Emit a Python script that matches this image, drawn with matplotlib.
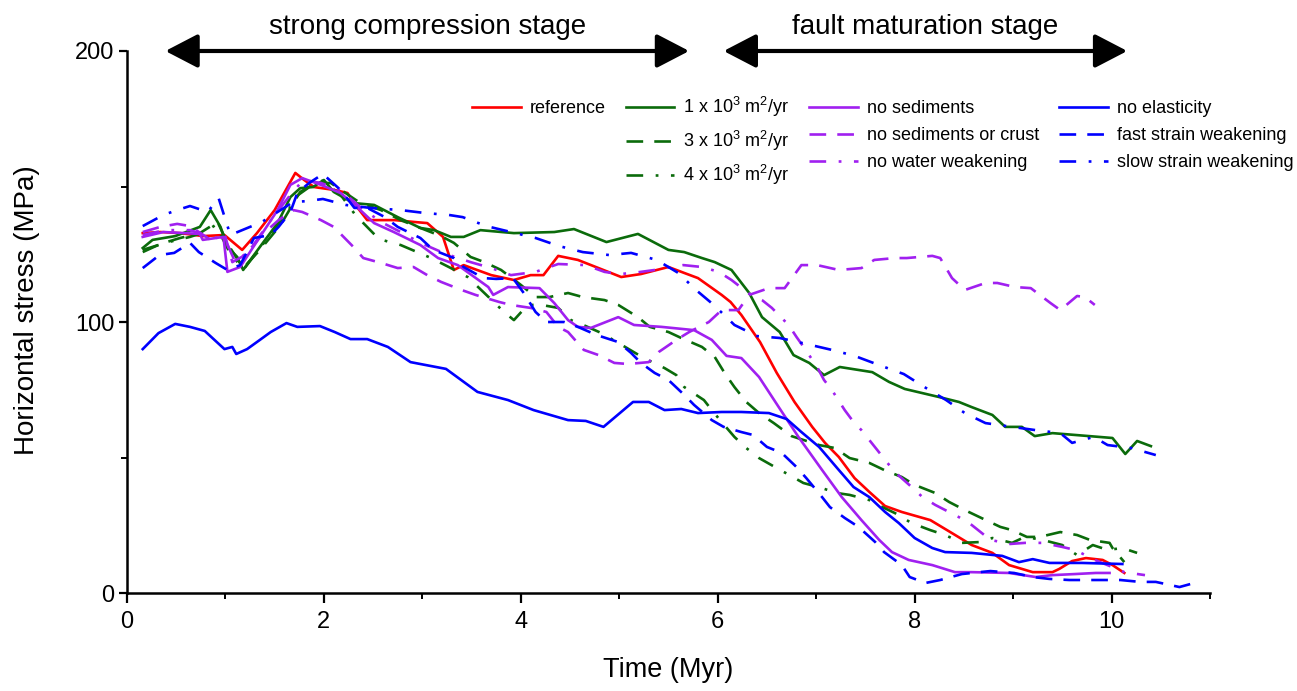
import matplotlib

matplotlib.use("Agg")

import matplotlib.pyplot as plt
from matplotlib.lines import Line2D
from matplotlib.ticker import MultipleLocator

FONT = ["Liberation Sans", "DejaVu Sans"]
plt.rcParams["font.family"] = FONT
plt.rcParams["mathtext.fontset"] = "custom"
plt.rcParams["mathtext.rm"] = "Liberation Sans"
plt.rcParams["lines.scale_dashes"] = False

# ---- data: time (Myr), horizontal stress (MPa) ----
t_ref = [0.16, 0.34, 0.54, 0.77, 0.99, 1.17, 1.32, 1.50, 1.71, 1.80, 1.90, 2.11, 2.24, 2.32, 2.44,
         2.72, 2.92, 3.05, 3.21, 3.32, 3.42, 3.70, 3.93, 4.10, 4.23, 4.38, 4.58, 4.79, 5.02, 5.22,
         5.50, 5.66, 5.80, 6.04, 6.13, 6.24, 6.43, 6.60, 6.78, 6.96, 7.09, 7.23, 7.39, 7.54, 7.70,
         7.87, 8.16, 8.38, 8.58, 8.79, 8.96, 9.20, 9.40, 9.47, 9.60, 9.74, 9.91, 10.01, 10.13]
s_ref = [132.8, 133.2, 132.8, 131.7, 132.1, 126.6, 132.8, 141.3, 155.0, 152.4, 149.8, 148.7, 147.6,
         143.2, 137.6, 137.6, 136.9, 136.5, 131.4, 119.2, 121.0, 117.3, 115.5, 117.3, 117.3, 124.4,
         122.9, 119.9, 116.6, 117.7, 120.3, 118.1, 116.2, 110.0, 107.4, 102.6, 92.6, 81.2, 70.5,
         61.3, 55.4, 50.2, 42.4, 37.3, 32.1, 29.9, 26.9, 22.1, 17.7, 14.8, 10.3, 7.7, 7.7, 8.9,
         11.8, 12.9, 12.2, 10.3, 7.4]

t_k1 = [0.16, 0.26, 0.49, 0.74, 0.85, 0.95, 1.02, 1.12, 1.18, 1.35, 1.53, 1.66, 1.76, 1.89, 2.00,
        2.10, 2.30, 2.51, 2.75, 2.98, 3.12, 3.29, 3.42, 3.59, 3.93, 4.34, 4.54, 4.87, 5.19, 5.50,
        5.66, 5.84, 5.97, 6.14, 6.32, 6.45, 6.63, 6.77, 6.93, 7.08, 7.24, 7.57, 7.74, 7.90, 8.25,
        8.45, 8.58, 8.79, 8.92, 9.09, 9.22, 9.40, 10.01, 10.14, 10.26, 10.40]
s_k1 = [127.3, 130.3, 131.7, 135.1, 141.3, 135.1, 127.7, 124.0, 119.2, 127.7, 136.5, 146.1, 149.4,
        149.8, 152.4, 148.0, 143.9, 143.2, 138.7, 134.7, 133.9, 131.4, 131.4, 133.9, 132.8, 133.2,
        134.3, 129.5, 132.5, 126.6, 125.8, 123.6, 122.1, 119.2, 110.7, 101.8, 96.3, 87.8, 84.9,
        80.4, 83.4, 81.5, 77.9, 75.3, 72.3, 70.5, 68.6, 65.7, 61.3, 61.3, 57.9, 59.0, 57.2, 51.3,
        56.1, 54.2]

t_k3 = [0.16, 0.34, 0.54, 0.74, 0.92, 1.03, 1.18, 1.35, 1.56, 1.74, 1.91, 2.07, 2.22, 2.37, 2.58,
        2.78, 2.98, 3.19, 3.32, 3.49, 3.63, 3.80, 4.00, 4.15, 4.29, 4.48, 4.63, 4.85, 4.99, 5.19,
        5.31, 5.50, 5.63, 5.84, 5.97, 6.07, 6.17, 6.29, 6.42, 6.57, 6.75, 7.03, 7.19, 7.34, 7.54,
        7.69, 7.87, 8.00, 8.21, 8.35, 8.51, 8.66, 8.87, 8.99, 9.14, 9.27, 9.48, 9.65, 9.78, 9.98,
        10.01, 10.13]
s_k3 = [125.8, 128.8, 131.0, 132.8, 136.9, 128.4, 119.9, 126.6, 135.8, 146.9, 151.3, 151.3, 147.6,
        143.9, 141.3, 137.6, 134.7, 131.7, 129.2, 124.0, 122.1, 119.2, 113.7, 109.2, 109.2, 110.7,
        109.2, 108.1, 106.3, 101.8, 98.2, 96.3, 94.1, 90.8, 87.1, 81.2, 76.0, 70.5, 66.4, 62.7,
        57.9, 54.6, 53.5, 49.8, 48.0, 45.4, 42.8, 39.9, 36.9, 33.6, 30.6, 28.0, 24.4, 23.2, 20.7,
        20.7, 22.5, 21.4, 19.6, 18.5, 16.6, 11.4]

t_k4 = [0.16, 0.39, 0.64, 0.79, 0.90, 1.03, 1.18, 1.35, 1.56, 1.76, 1.97, 2.17, 2.32, 2.56, 2.78,
        3.09, 3.29, 3.46, 3.63, 3.83, 3.93, 4.07, 4.21, 4.38, 4.51, 4.66, 4.82, 4.99, 5.25, 5.46,
        5.58, 5.66, 5.86, 5.94, 6.04, 6.17, 6.29, 6.42, 6.60, 6.73, 6.87, 7.06, 7.21, 7.34, 7.54,
        7.69, 7.80, 7.97, 8.16, 8.31, 8.48, 8.66, 8.79, 8.99, 9.12, 9.30, 9.50, 9.65, 9.81, 9.96,
        10.11, 10.26]
s_k4 = [126.6, 129.2, 131.4, 133.2, 135.8, 126.6, 119.2, 127.3, 136.9, 148.0, 152.4, 146.9, 139.5,
        130.6, 128.4, 123.6, 119.9, 116.6, 110.7, 103.7, 100.7, 106.3, 106.3, 105.2, 100.7, 98.5,
        95.9, 92.3, 86.7, 83.0, 80.4, 76.0, 71.2, 67.5, 63.1, 57.6, 53.5, 49.8, 46.1, 43.5, 40.6,
        38.7, 36.9, 36.2, 34.3, 31.4, 29.5, 25.8, 23.2, 21.4, 18.5, 18.8, 20.3, 18.5, 20.7, 19.6,
        17.7, 14.0, 17.7, 15.9, 16.6, 14.8]

t_nosed = [0.16, 0.37, 0.74, 0.77, 0.98, 1.02, 1.15, 1.35, 1.53, 1.66, 1.78, 1.97, 2.17, 2.37,
           2.51, 2.71, 2.98, 3.16, 3.36, 3.67, 3.72, 3.87, 4.19, 4.34, 4.48, 4.58, 4.71, 4.99, 5.15,
           5.43, 5.76, 5.94, 6.09, 6.24, 6.42, 6.62, 6.82, 7.06, 7.26, 7.46, 7.64, 7.77, 7.94, 8.18,
           8.41, 8.58, 8.96, 9.23, 9.40, 9.63, 9.84, 9.98]
s_nosed = [131.4, 133.2, 132.5, 130.3, 131.4, 118.5, 120.3, 131.4, 141.3, 150.6, 153.1, 150.6,
           147.6, 141.3, 136.5, 133.2, 128.4, 123.6, 121.0, 112.9, 110.0, 112.9, 112.5, 107.0,
           100.7, 98.2, 97.8, 101.8, 98.9, 98.2, 97.0, 93.4, 87.5, 86.7, 79.7, 68.6, 57.6, 45.4,
           35.4, 26.9, 19.6, 15.1, 12.2, 10.3, 7.7, 7.7, 7.4, 5.9, 6.6, 7.0, 7.4, 7.4]

t_nocrust = [0.16, 0.34, 0.51, 0.64, 0.85, 1.00, 1.07, 1.20, 1.37, 1.54, 1.69, 1.78, 1.97, 2.10,
             2.30, 2.40, 2.58, 2.75, 2.91, 3.05, 3.19, 3.40, 3.54, 3.78, 3.90, 4.10, 4.26, 4.38,
             4.48, 4.64, 4.79, 4.95, 5.09, 5.30, 5.40, 5.58, 5.71, 5.91, 6.04, 6.21, 6.32, 6.52,
             6.68, 6.85, 7.01, 7.23, 7.46, 7.59, 7.80, 7.92, 8.18, 8.26, 8.38, 8.51, 8.72, 8.84,
             9.02, 9.18, 9.38, 9.48, 9.65, 9.73, 9.83]
s_nocrust = [133.2, 135.1, 136.2, 135.4, 130.3, 131.4, 122.1, 124.7, 132.1, 137.6, 141.3, 140.6,
             137.6, 135.1, 127.7, 123.6, 121.8, 119.9, 120.3, 117.3, 114.8, 111.8, 110.0, 107.4,
             106.3, 105.2, 103.7, 98.2, 96.3, 89.7, 87.8, 84.9, 84.5, 85.2, 88.9, 93.4, 96.3,
             100.0, 104.4, 104.4, 110.0, 112.5, 112.5, 121.0, 121.0, 119.2, 119.9, 122.9, 123.6,
             123.6, 124.4, 123.6, 116.2, 111.8, 114.4, 114.4, 112.9, 112.5, 107.0, 104.4, 109.6,
             109.2, 106.3]

t_nowater = [0.16, 0.39, 0.64, 0.79, 1.00, 1.10, 1.25, 1.46, 1.66, 1.79, 1.97, 2.17, 2.37, 2.58,
             2.78, 2.98, 3.24, 3.49, 3.70, 3.90, 4.15, 4.38, 4.66, 4.85, 5.00, 5.14, 5.36, 5.65,
             5.84, 6.01, 6.14, 6.31, 6.45, 6.55, 6.72, 6.80, 6.88, 7.01, 7.08, 7.16, 7.29, 7.38,
             7.46, 7.62, 7.70, 7.80, 7.97, 8.08, 8.21, 8.45, 8.58, 8.77, 8.97, 9.12, 9.30, 9.50,
             9.63, 9.83, 9.98, 10.13, 10.34]
s_nowater = [132.1, 133.9, 133.9, 132.1, 130.3, 122.1, 126.6, 137.6, 146.9, 152.4, 151.3, 148.7,
             142.4, 136.9, 133.2, 129.2, 125.1, 122.1, 119.9, 117.3, 118.5, 121.4, 121.0, 118.5,
             117.7, 118.1, 119.2, 121.0, 120.3, 118.5, 115.5, 110.7, 108.1, 105.2, 98.9, 94.5,
             90.4, 83.4, 78.6, 74.9, 67.5, 63.1, 60.1, 52.8, 49.1, 44.6, 39.1, 35.4, 32.5, 28.0,
             25.1, 19.6, 18.1, 18.5, 18.5, 17.0, 15.9, 12.2, 10.0, 7.7, 6.6]

t_noelast = [0.16, 0.32, 0.49, 0.64, 0.79, 0.99, 1.07, 1.11, 1.22, 1.35, 1.46, 1.62, 1.73, 1.96,
             2.11, 2.27, 2.44, 2.65, 2.88, 2.98, 3.24, 3.56, 3.87, 4.13, 4.48, 4.66, 4.84, 5.14,
             5.30, 5.46, 5.63, 5.80, 6.04, 6.24, 6.52, 6.70, 6.85, 7.03, 7.23, 7.38, 7.54, 7.70,
             7.84, 8.00, 8.18, 8.31, 8.58, 8.89, 9.06, 9.20, 9.37, 9.70, 10.11]
s_noelast = [90.0, 95.9, 99.3, 98.2, 96.7, 90.0, 90.8, 88.2, 90.0, 93.4, 96.3, 99.6, 98.2, 98.5,
             96.3, 93.7, 93.7, 90.8, 85.2, 84.5, 82.7, 74.2, 71.2, 67.5, 63.8, 63.5, 61.3, 70.5,
             70.5, 67.5, 67.9, 66.4, 66.8, 66.8, 66.4, 64.2, 59.4, 53.9, 45.4, 39.1, 35.4, 29.9,
             25.8, 20.3, 16.6, 15.1, 14.8, 13.7, 11.4, 12.5, 11.1, 11.1, 10.7]

t_fast = [0.16, 0.33, 0.48, 0.64, 0.73, 0.90, 1.02, 1.15, 1.29, 1.46, 1.54, 1.66, 1.73, 1.85, 1.99,
          2.17, 2.31, 2.44, 2.62, 2.75, 2.98, 3.11, 3.32, 3.42, 3.62, 3.75, 3.92, 4.03, 4.15, 4.26,
          4.44, 4.58, 4.77, 4.99, 5.12, 5.22, 5.36, 5.50, 5.66, 5.76, 5.94, 6.06, 6.24, 6.36, 6.50,
          6.65, 6.80, 6.90, 7.06, 7.14, 7.29, 7.43, 7.60, 7.69, 7.87, 7.95, 8.11, 8.26, 8.48, 8.66,
          8.77, 9.01, 9.20, 9.37, 9.57, 9.76, 9.96, 10.09, 10.29, 10.45, 10.69, 10.80]
s_fast = [119.9, 124.7, 125.5, 129.2, 125.8, 121.8, 119.2, 121.0, 131.0, 132.1, 135.1, 140.6, 147.6,
          151.3, 154.6, 148.7, 142.1, 142.1, 138.7, 135.1, 131.0, 126.6, 123.6, 120.3, 116.2, 115.9,
          116.2, 110.7, 103.7, 100.0, 100.0, 98.2, 95.2, 92.6, 88.6, 84.9, 81.2, 78.6, 73.1, 69.4,
          63.8, 61.3, 59.4, 58.3, 53.9, 51.7, 46.5, 42.4, 35.4, 31.7, 27.7, 24.4, 18.8, 15.1, 10.3,
          5.9, 3.7, 4.8, 7.0, 7.7, 8.1, 7.4, 5.9, 5.2, 4.8, 4.8, 4.8, 4.8, 4.1, 4.1, 2.2, 3.3]

t_slow = [0.16, 0.37, 0.51, 0.64, 0.82, 0.93, 1.05, 1.17, 1.37, 1.69, 1.83, 1.99, 2.22, 2.47, 2.78,
          3.03, 3.27, 3.41, 3.65, 3.90, 4.15, 4.39, 4.63, 4.90, 5.12, 5.38, 5.60, 5.78, 5.96, 6.17,
          6.40, 6.63, 6.90, 7.16, 7.39, 7.64, 7.89, 8.10, 8.32, 8.51, 8.72, 8.99, 9.23, 9.48, 9.60,
          9.82, 9.96, 10.20, 10.45]
s_slow = [135.4, 139.5, 141.3, 142.8, 140.6, 145.8, 132.1, 133.9, 136.9, 144.3, 144.6, 145.4,
          143.2, 142.1, 141.3, 140.2, 139.5, 138.7, 135.4, 133.2, 131.0, 128.0, 125.8, 124.7,
          125.5, 122.9, 118.1, 111.8, 106.3, 98.9, 94.8, 94.1, 91.9, 89.7, 87.5, 84.1, 80.8, 76.0,
          71.2, 66.4, 62.7, 61.3, 60.1, 59.0, 55.4, 57.6, 54.6, 53.5, 50.9]

STAGES = ["strong compression stage", "fault maturation stage"]
STAGE_SPANS = [(0.39, 5.71), (6.06, 10.16)]

RED, GREEN, PURPLE, BLUE = "#ff0000", "#0b6b0b", "#a020f0", "#0000ff"
DASH = (0, (12, 8))
DASHDOT = (0, (12, 9, 2, 9))

SERIES = [
    ("reference", t_ref, s_ref, RED, "-"),
    ("1 x 10$^3$ m$^2$/yr", t_k1, s_k1, GREEN, "-"),
    ("3 x 10$^3$ m$^2$/yr", t_k3, s_k3, GREEN, DASH),
    ("4 x 10$^3$ m$^2$/yr", t_k4, s_k4, GREEN, DASHDOT),
    ("no sediments", t_nosed, s_nosed, PURPLE, "-"),
    ("no sediments or crust", t_nocrust, s_nocrust, PURPLE, DASH),
    ("no water weakening", t_nowater, s_nowater, PURPLE, DASHDOT),
    ("no elasticity", t_noelast, s_noelast, BLUE, "-"),
    ("fast strain weakening", t_fast, s_fast, BLUE, DASH),
    ("slow strain weakening", t_slow, s_slow, BLUE, DASHDOT),
]

fig = plt.figure(figsize=(12.97, 6.91), dpi=100)
ax = fig.add_axes([0.0979, 0.1418, 0.835, 0.7844])

lines = {}
for label, t, s, color, ls in SERIES:
    (ln,) = ax.plot(t, s, color=color, linestyle=ls, linewidth=1.9, label=label)
    lines[label] = ln

ax.set_xlim(0, 11)
ax.set_ylim(0, 200)
ax.set_xticks([0, 2, 4, 6, 8, 10])
ax.xaxis.set_minor_locator(MultipleLocator(1))
ax.set_yticks([0, 100, 200])
ax.yaxis.set_minor_locator(MultipleLocator(50))
ax.tick_params(which="major", direction="out", width=1.6, labelsize=17)
ax.tick_params(axis="x", which="major", length=7, pad=6)
ax.tick_params(axis="y", which="major", length=6, pad=3)
ax.tick_params(which="minor", direction="out", length=4, width=1.4)
for side in ("top", "right"):
    ax.spines[side].set_visible(False)
for side in ("left", "bottom"):
    ax.spines[side].set_linewidth(1.8)

ax.set_xlabel("Time (Myr)", fontsize=19.5)
ax.xaxis.set_label_coords(0.5, -0.118)
ax.set_ylabel("Horizontal stress (MPa)", fontsize=20)
ax.yaxis.set_label_coords(-0.080, 0.522)

# stage arrows along the top
for (t0, t1), name in zip(STAGE_SPANS, STAGES):
    ax.annotate("", xy=(t1, 200), xytext=(t0, 200), annotation_clip=False,
                arrowprops=dict(arrowstyle="<|-|>,head_length=1.25,head_width=0.65",
                                mutation_scale=16, lw=3, color="black",
                                shrinkA=0, shrinkB=0))
    ax.text((t0 + t1) / 2, 209, name, ha="center", va="center", fontsize=20, clip_on=False)

# legend: 4 columns, first column only holds "reference"
blank = Line2D([], [], linestyle="none")
order = [SERIES[0][0], None, None] + [s[0] for s in SERIES[1:]]
handles = [lines[k] if k else blank for k in order]
labels = [k if k else "" for k in order]
ax.legend(handles, labels, ncol=4, loc="upper left",
          bbox_to_anchor=(472 / 1297, 1 - 95 / 691), bbox_transform=fig.transFigure,
          frameon=False, prop={"family": FONT, "size": 13},
          handlelength=2.7, handletextpad=0.5, columnspacing=1.1, labelspacing=0.55,
          borderpad=0, borderaxespad=0)

fig.savefig("out.png", dpi=100, facecolor="white")
